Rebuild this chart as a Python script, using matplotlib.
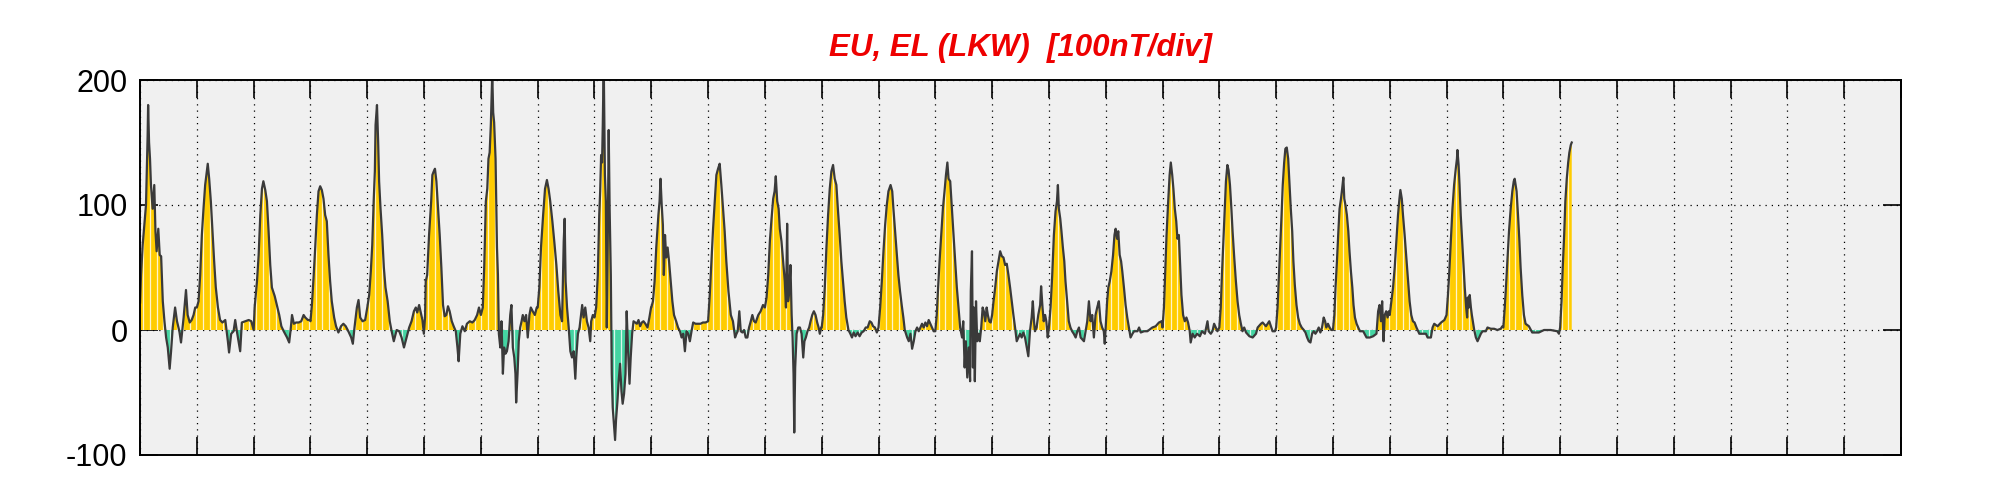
import numpy as np
import matplotlib
matplotlib.use("Agg")
import matplotlib.pyplot as plt
from matplotlib.path import Path

# EU/EL index at LKW, hours from start of month (one row per day)
hours = [
    0.0, 0.4, 1.1, 2.5, 3.2, 3.4, 3.8, 4.2, 4.6, 5.3, 6.0, 6.5, 7.0, 7.7, 8.3, 8.9, 9.6, 10.3, 11.0, 11.7, 12.5, 13.1, 13.8, 14.8, 15.6, 16.6, 17.3, 18.4, 19.4, 20.1, 21.0, 21.8, 22.6, 23.3,
    24.0, 24.7, 25.4, 26.1, 26.8, 27.5, 28.2, 28.6, 29.2, 29.9, 30.6, 31.3, 32.0, 32.9, 33.8, 34.8, 36.0, 37.1, 37.6, 38.5, 39.5, 40.2, 40.9, 41.6, 42.3, 43.0, 44.5, 45.9, 47.0,
    48.0, 48.4, 49.4, 50.1, 50.8, 51.5, 52.1, 52.9, 53.6, 54.3, 55.0, 55.7, 56.9, 57.8, 58.8, 59.7, 60.7, 62.1, 63.0, 63.6, 64.2, 65.0, 65.9, 67.0, 68.1, 69.1, 69.8, 70.9, 71.7,
    72.0, 72.6, 73.3, 74.0, 74.7, 75.4, 76.1, 76.8, 77.5, 78.2, 78.9, 79.6, 80.3, 81.0, 82.0, 82.8, 83.8, 84.9, 85.9, 86.9, 88.0, 89.2, 89.9, 90.6, 91.6, 92.3, 93.0, 94.0, 95.1,
    96.0, 96.8, 97.5, 98.1, 98.7, 99.2, 99.5, 100.1, 100.6, 101.0, 101.6, 102.3, 103.0, 103.7, 104.6, 105.5, 106.3, 107.2, 108.4, 109.5, 110.5, 111.5, 112.6, 113.7, 114.7, 115.7, 116.5, 117.1, 117.9, 118.6, 119.3, 119.9,
    120.4, 120.7, 121.3, 122.1, 123.0, 123.5, 124.1, 124.6, 125.2, 125.9, 126.6, 127.3, 128.0, 128.7, 129.4, 130.1, 130.8, 131.7, 132.5, 133.4, 134.1, 134.6, 135.3, 136.2, 137.2, 138.1, 139.3, 140.4, 141.4, 142.4, 143.2,
    144.0, 144.8, 145.4, 146.1, 146.7, 147.2, 147.7, 148.2, 148.8, 149.2, 149.6, 150.2, 150.5, 150.8, 151.2, 151.6, 152.2, 152.7, 153.3, 153.8, 154.4, 155.0, 155.7, 156.4, 156.9, 157.5, 158.1, 158.6, 158.9, 159.5, 160.0, 160.6, 161.2, 161.7, 162.4, 163.1, 163.8, 164.5, 165.1, 165.9, 166.8, 167.6,
    168.0, 168.7, 169.4, 170.3, 171.1, 171.9, 172.6, 173.3, 174.2, 175.0, 175.9, 176.7, 177.6, 178.3, 179.0, 179.4, 179.8, 180.4, 181.1, 181.8, 182.5, 183.2, 183.9, 184.3, 185.0, 185.7, 186.3, 186.8, 187.4, 188.1, 188.8, 189.5, 190.2, 190.6, 191.3,
    192.0, 192.7, 193.4, 194.0, 194.4, 194.8, 195.2, 195.5, 195.9, 196.4, 196.8, 197.2, 197.6, 198.0, 198.4, 198.9, 199.3, 199.7, 200.3, 200.7, 201.1, 201.7, 202.2, 202.8, 203.4, 203.9, 204.5, 205.1, 205.6, 206.2, 206.8, 207.3, 207.9, 208.5, 209.2, 209.9, 210.6, 211.3, 212.0, 212.7, 213.5, 214.4, 215.2, 215.9,
    216.0, 216.7, 217.4, 218.1, 219.0, 219.5, 219.9, 220.4, 220.9, 221.3, 221.8, 222.3, 222.9, 223.5, 224.2, 224.9, 225.6, 226.5, 227.3, 228.1, 228.8, 229.5, 230.2, 230.9, 231.6, 232.3, 233.0, 233.7, 234.7, 235.7, 236.8, 237.8, 238.9,
    240.0, 240.7, 241.4, 242.1, 242.8, 243.5, 244.2, 244.9, 245.6, 246.3, 247.0, 247.7, 248.6, 249.6, 250.5, 251.4, 252.0, 252.5, 253.2, 253.8, 254.5, 255.2, 255.9, 256.6, 257.3, 257.9, 258.7, 259.4, 260.1, 261.2, 262.2, 263.2,
    264.0, 264.7, 265.4, 266.1, 266.8, 267.5, 268.1, 268.6, 269.2, 269.8, 270.3, 271.0, 271.7, 272.4, 272.9, 273.4, 273.8, 274.3, 274.8, 275.3, 275.7, 276.1, 276.4, 276.8, 277.4, 278.1, 278.8, 279.5, 280.2, 280.7, 281.3, 282.0, 282.7, 283.3, 284.0, 284.7, 285.4, 286.1, 286.7, 287.2, 287.8,
    288.0, 288.6, 289.3, 290.0, 290.7, 291.4, 292.1, 292.8, 293.5, 294.2, 294.9, 295.6, 296.3, 297.0, 297.7, 298.4, 299.3, 300.1, 300.8, 301.5, 302.3, 303.2, 304.0, 304.9, 305.7, 306.6, 307.4, 308.3, 309.0, 309.7, 310.5, 311.3,
    312.0, 312.7, 313.4, 314.1, 314.8, 315.5, 316.2, 317.1, 317.8, 318.3, 319.0, 319.7, 320.4, 321.1, 321.8, 322.5, 323.1, 324.1, 324.8, 325.5, 326.2, 326.9, 327.6, 328.3, 329.0, 329.7, 330.4, 331.1, 331.8, 332.5, 333.2, 333.9, 334.6, 335.3,
    336.0, 336.6, 337.1, 337.8, 338.5, 339.2, 339.9, 340.5, 341.1, 341.6, 342.3, 343.0, 343.7, 344.4, 345.1, 345.8, 346.5, 347.3, 347.8, 348.4, 348.9, 349.5, 350.1, 350.7, 351.0, 351.5, 351.9, 352.3, 352.7, 353.2, 353.7, 354.3, 354.8, 355.4, 356.0, 356.5, 357.1, 357.7, 358.2, 358.8, 359.4,
    360.0, 360.6, 361.3, 362.0, 362.7, 363.4, 364.1, 364.8, 365.5, 366.2, 366.9, 367.6, 368.3, 369.0, 369.7, 370.4, 371.1, 371.8, 372.5, 373.2, 373.9, 375.3, 376.0, 376.7, 377.2, 377.7, 378.1, 378.8, 379.5, 380.3, 380.7, 381.3, 381.8, 382.4, 382.9, 383.5,
    384.0, 384.7, 385.4, 386.1, 386.8, 387.4, 387.8, 388.2, 388.8, 389.3, 389.9, 390.5, 391.0, 391.7, 392.4, 393.1, 393.8, 394.5, 395.3, 396.0, 396.7, 397.4, 398.8, 400.2, 400.9, 401.6, 402.3, 403.0, 403.7, 404.4, 405.1, 405.8, 406.5, 407.2, 407.6,
    408.0, 408.6, 409.1, 409.7, 410.4, 411.1, 411.7, 412.2, 412.8, 413.3, 413.9, 414.5, 415.0, 415.7, 416.4, 417.1, 417.8, 418.5, 419.3, 420.0, 421.4, 422.1, 422.8, 424.2, 425.6, 427.7, 429.1, 430.5, 431.6,
    432.0, 432.6, 433.1, 433.7, 434.4, 435.0, 435.5, 436.1, 436.6, 437.2, 437.8, 438.3, 438.9, 439.5, 440.0, 440.7, 441.4, 442.1, 442.8, 443.5, 443.9, 444.7, 445.6, 446.6, 447.8, 448.7, 449.9, 451.0, 451.5, 452.4, 453.1, 453.8, 454.5, 455.2,
    456.0, 456.6, 457.1, 457.7, 458.3, 458.8, 459.4, 459.9, 460.5, 461.1, 461.6, 462.3, 463.0, 463.7, 464.4, 465.1, 465.8, 466.5, 467.3, 468.7, 470.1, 471.5, 472.2, 473.6, 474.3, 475.7, 477.1, 478.5, 479.5,
    480.0, 480.6, 481.1, 481.7, 482.3, 482.8, 483.4, 483.9, 484.5, 485.1, 485.6, 486.2, 486.8, 487.3, 487.9, 488.6, 489.3, 490.0, 490.8, 491.7, 492.4, 493.1, 493.8, 494.5, 495.2, 495.9, 496.6, 497.3, 498.0, 498.7, 499.4, 500.1, 500.7, 501.2, 501.9, 502.6, 503.3,
    504.0, 504.6, 505.1, 505.7, 506.3, 506.8, 507.4, 507.9, 508.4, 508.8, 509.3, 509.9, 510.5, 511.0, 511.6, 512.2, 512.7, 513.3, 514.0, 514.7, 515.4, 516.8, 518.2, 519.6, 521.0, 522.4, 523.1, 523.7, 524.3, 524.8, 525.4, 525.9, 526.5, 527.1, 527.6,
    528.0, 528.7, 529.4, 530.1, 530.8, 531.5, 532.1, 532.5, 533.1, 533.6, 534.3, 535.0, 535.7, 536.4, 537.1, 537.8, 538.5, 539.3, 540.5, 541.9, 543.3, 544.0, 545.4, 546.1, 546.8, 548.2, 549.7, 551.1,
    552.0, 552.6, 553.1, 553.8, 554.5, 555.2, 555.9, 556.4, 556.6, 557.1, 557.5, 558.0, 558.6, 559.2, 559.7, 560.3, 560.7, 561.0, 561.4, 561.8, 562.3, 562.7, 563.1, 563.7, 564.4, 565.1, 565.8, 566.5, 567.2, 568.6, 569.3, 570.7, 572.1, 573.5, 574.9, 575.6,
    576.0, 576.6, 577.1, 577.7, 578.4, 579.1, 579.8, 580.4, 580.8, 581.2, 581.6, 582.2, 582.8, 583.3, 584.0, 584.7, 585.4, 586.8, 588.2, 589.6, 591.0, 593.2, 596.0, 598.8, 599.5,
    600.0, 600.6, 601.1, 601.7, 602.2, 602.8, 603.4, 603.9, 604.5, 604.9,
]

eu_el = [
    22, 44, 68, 100, 156, 180, 150, 137, 116, 97, 116, 79, 63, 81, 60, 59, 23, 7, -6, -14, -31, -17, 2, 18, 7, -1, -10, 10, 32, 12, 6, 8, 12, 18,
    18, 23, 44, 76, 97, 116, 127, 133, 121, 103, 79, 55, 34, 18, 8, 6, 8, -9, -18, -3, -1, 8, -1, -9, -17, 6, 7, 8, 7,
    0, 18, 39, 60, 92, 113, 119, 112, 103, 79, 52, 34, 27, 20, 12, 3, -1, -6, -10, 0, 12, 5, 6, 6, 7, 12, 10, 8, 8,
    7, 20, 42, 66, 92, 111, 115, 112, 105, 92, 87, 60, 39, 23, 10, 3, -2, 3, 5, 3, -1, -6, -11, 2, 18, 24, 10, 7, 8,
    18, 28, 47, 68, 103, 127, 164, 180, 150, 119, 97, 76, 50, 34, 23, 7, -1, -9, 0, -1, -6, -14, -6, 2, 7, 15, 18, 14, 20, 14, 8, -3,
    10, 39, 44, 76, 103, 124, 127, 129, 119, 97, 76, 50, 20, 11, 12, 19, 15, 7, 3, -1, -14, -25, -3, 3, -1, 5, 7, 6, 8, 12, 18,
    12, 18, 50, 103, 113, 137, 142, 164, 205, 174, 166, 137, 103, 66, 44, -3, -14, 7, -35, -14, -19, -17, -9, 12, 20, -14, -22, -35, -58, -35, -9, 2, 7, 12, 7, 12, -6, 12, 18, 15, 12, 18,
    18, 34, 66, 92, 113, 120, 113, 103, 87, 71, 52, 31, 12, 7, 71, 89, 39, 18, 2, -17, -22, -17, -39, -22, -3, 2, 12, 20, 10, 18, 7, 2, -9, 7, 12,
    10, 18, 44, 92, 111, 140, 134, 164, 215, 124, 103, 2, 71, 160, 97, 44, -35, -62, -78, -88, -72, -57, -41, -27, -49, -59, -51, -35, 15, -17, -43, -22, -3, 7, 6, 5, 8, 3, 6, 7, 5, 2, 10, 18,
    18, 23, 39, 66, 92, 103, 121, 100, 84, 44, 76, 58, 66, 55, 39, 23, 12, 7, 2, -1, -6, -3, -17, -1, -3, -9, -1, 6, 5, 5, 5, 6, 6,
    7, 28, 55, 81, 103, 124, 129, 133, 116, 97, 79, 55, 31, 12, 7, -6, -3, -1, 15, -1, -2, 0, -6, -6, 2, 6, 12, 7, 6, 12, 15, 20,
    18, 26, 44, 71, 89, 105, 111, 123, 103, 97, 81, 71, 55, 39, 18, 85, 23, 31, 52, 12, -6, -35, -82, -30, -3, 2, 2, -3, -22, -9, -6, -1, 2, 7, 12, 15, 12, 6, 2, -3, 2,
    2, 12, 34, 66, 92, 113, 127, 132, 121, 116, 95, 76, 55, 39, 23, 10, 0, -3, -6, -2, -5, -2, -5, -2, -1, 2, 2, 7, 6, 3, 2, -2,
    2, 18, 39, 63, 84, 100, 111, 116, 111, 97, 79, 60, 44, 31, 20, 10, 0, -6, -9, -3, -15, -9, -1, 2, -1, 2, 5, 2, 6, 3, 8, 5, 2, -1,
    -1, 12, 31, 55, 76, 97, 111, 124, 134, 121, 119, 97, 76, 55, 34, 18, 2, -6, 7, -30, -9, -38, -14, -41, 31, 63, -30, 18, -41, 23, -9, -3, -9, 2, 18, 15, 7, 18, 12, 7, 6,
    12, 23, 34, 47, 55, 63, 59, 58, 52, 53, 44, 34, 23, 12, 2, -9, -6, -3, -6, -2, -6, -21, -1, 10, 23, 7, -1, 2, 12, 20, 35, 18, 7, 12, 7, -6,
    2, 18, 44, 76, 95, 103, 116, 97, 89, 79, 66, 55, 39, 23, 7, 2, -1, -3, -6, -1, 2, -6, -9, 7, 23, 7, 12, -6, 12, 18, 23, 7, 2, -1, -11,
    2, 23, 34, 39, 47, 60, 76, 81, 73, 79, 60, 55, 47, 34, 20, 10, 2, -6, -3, -1, -1, 2, -2, -1, -1, 2, 3, 6, 7,
    2, 18, 44, 76, 103, 124, 134, 124, 113, 97, 87, 73, 76, 50, 28, 12, 7, 10, 6, -1, -10, -3, -6, -3, -5, -1, -3, 7, -1, -3, -1, 5, 2, -1,
    2, 18, 44, 71, 97, 119, 132, 128, 116, 97, 79, 58, 39, 23, 12, 5, -1, 2, -2, -5, -6, -3, 2, 5, 6, 3, 7, -1, -1,
    2, 18, 39, 66, 92, 116, 134, 145, 146, 137, 119, 97, 79, 55, 36, 20, 10, 5, 2, 0, -2, -6, -9, -10, -3, -1, -3, -1, 2, -2, 2, 10, 7, 2, 5, 2, 0,
    0, 12, 34, 55, 79, 97, 105, 113, 122, 105, 100, 92, 79, 63, 47, 34, 20, 10, 5, 2, -1, -1, -6, -6, -5, -3, 15, 20, 7, 23, -9, 12, 15, 10, 15,
    12, 23, 34, 50, 71, 92, 105, 112, 105, 92, 76, 58, 39, 23, 12, 7, 6, 2, -3, -3, -3, -6, -6, 2, 5, 3, 6, 8,
    12, 28, 44, 71, 97, 116, 129, 137, 144, 132, 116, 92, 71, 50, 34, 18, 10, 26, 18, 28, 18, 12, 7, 0, -6, -9, -6, -3, -1, -1, 2, 1, 1, 0, 1, 3,
    2, 18, 34, 55, 79, 97, 111, 119, 121, 116, 111, 92, 71, 50, 28, 12, 5, 3, -2, -2, -2, 0, 0, -1, -3,
    2, 23, 50, 76, 103, 121, 134, 142, 148, 150,
]

n_days = 31
y_ticks = [-100, 0, 100, 200]
title = "EU, EL (LKW)  [100nT/div]"

t = np.array(hours)
v = np.array(eu_el, dtype=float)

fig = plt.figure(figsize=(20.01, 5.0), dpi=100)
ax = fig.add_axes([0.07, 0.09, 0.88, 0.75])
ax.set_facecolor("#f0f0f0")

pos = ax.fill_between(t, v, 0, where=v >= 0, interpolate=True, color="#ffcc00", lw=0)
neg = ax.fill_between(t, v, 0, where=v <= 0, interpolate=True, color="#44d4a2", lw=0)

# thin white stripes inside the filled area (bar-like look of the original)
clip = Path.make_compound_path(*pos.get_paths(), *neg.get_paths())
stripes = ax.vlines(np.arange(1.4, t[-1], 2.8), -100, 200, colors="white", lw=0.9, alpha=0.8)
stripes.set_clip_path(clip, ax.transData)

ax.plot(t, v, color="#3a3a3a", lw=1.6)

ax.set_xlim(0, n_days * 24)
ax.set_ylim(-100, 200)
ax.set_xticks(np.arange(0, n_days * 24 + 1, 24))
ax.set_yticks(y_ticks)
ax.set_yticklabels([str(y) for y in y_ticks], family="Liberation Sans")
ax.set_axisbelow(True)
ax.grid(True, linestyle=(0, (1, 4)), color="black", lw=0.9)
ax.tick_params(direction="in", length=13, width=1.2, top=True, right=True,
               labelbottom=False, labelsize=22, pad=9)
for s in ax.spines.values():
    s.set_linewidth(1.4)
    s.set_zorder(5)

ax.set_title(title, color="#ee0000", fontsize=22.5, fontweight="bold", fontstyle="italic",
             family="Liberation Sans", pad=17)

fig.savefig("out.png", dpi=100)
